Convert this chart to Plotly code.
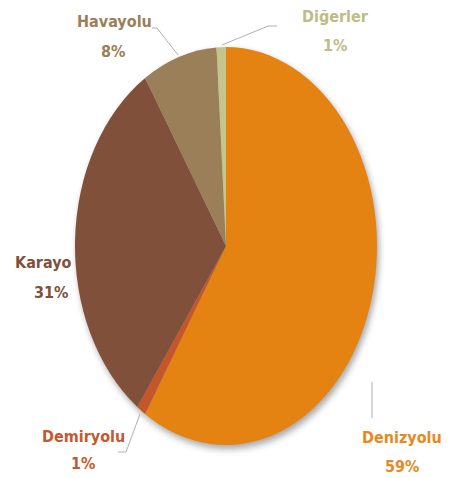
import plotly.graph_objects as go

W, H = 455, 478

categories = ["Denizyolu", "Demiryolu", "Karayolu", "Havayolu", "Diğerler"]
label_names = ["Denizyolu", "Demiryolu", "Karayo", "Havayolu", "Diğerler"]
shares = [59, 1, 31, 8, 1]
pct_labels = ["59%", "1%", "31%", "8%", "1%"]
colors = ["#E48212", "#C4562A", "#80503A", "#9B7F58", "#C5C48A"]
text_colors = ["#E8891E", "#C4582E", "#80503A", "#9B7F58", "#BDBC86"]

# label centres (px): name line, percent line
name_pos = [(402, 437), (83, 436), (43, 262), (114, 22), (335, 17)]
pct_pos = [(402, 466), (83, 463), (51, 292), (113, 52), (335, 45)]
# leader lines (px polylines)
leaders = [
    [(372, 382), (372, 418)],
    [(140, 414), (126, 452), (118, 452)],
    [],
    [(152, 28), (157, 28), (178, 55)],
    [(222, 45), (268, 26), (277, 26)],
]

def px(x):
    return x / W

def py(y):
    return 1 - y / H

cx, cy, r = 226, 246, 151

fig = go.Figure(
    go.Pie(
        labels=categories,
        values=shares,
        sort=False,
        direction="clockwise",
        rotation=0,
        marker=dict(colors=colors, line=dict(width=0)),
        textinfo="none",
        hoverinfo="label+percent",
        domain=dict(x=[px(cx - r), px(cx + r)], y=[py(cy + r), py(cy - r)]),
        showlegend=False,
    )
)

font_family = "Liberation Sans Narrow, DejaVu Sans Condensed, Arial Narrow, sans-serif"
annotations = []
for i in range(len(categories)):
    for txt, (x, y) in ((label_names[i], name_pos[i]), (pct_labels[i], pct_pos[i])):
        annotations.append(dict(
            x=px(x), y=py(y), xref="paper", yref="paper",
            text="<b>" + txt + "</b>", showarrow=False,
            xanchor="center", yanchor="middle",
            font=dict(family=font_family, size=16, color=text_colors[i]),
        ))

shapes = []
for pts in leaders:
    for (x0, y0), (x1, y1) in zip(pts[:-1], pts[1:]):
        shapes.append(dict(
            type="line", xref="paper", yref="paper",
            x0=px(x0), y0=py(y0), x1=px(x1), y1=py(y1),
            line=dict(color="#B0B0B0", width=1),
        ))

fig.update_layout(
    width=W, height=H,
    margin=dict(l=0, r=0, t=0, b=0),
    paper_bgcolor="white", plot_bgcolor="white",
    annotations=annotations, shapes=shapes,
)

post = """
document.body.style.margin = '0';
document.body.style.padding = '0';
var gd = document.getElementById('{plot_id}');
function stretch(){
  var layer = gd.querySelector('.pielayer');
  if(!layer) return;
  layer.removeAttribute('transform');
  var b = layer.getBBox();
  var cx = b.x + b.width/2, cy = b.y + b.height/2;
  var s = 199/151;
  layer.setAttribute('transform', 'translate(' + cx + ',' + cy + ') scale(1,' + s + ') translate(' + (-cx) + ',' + (-cy) + ')');
  layer.style.filter = 'drop-shadow(2px 3px 3px rgba(0,0,0,0.35))';
}
stretch();
gd.on('plotly_afterplot', stretch);
"""

fig.write_html("out.html", post_script=post, config={"displayModeBar": False})
